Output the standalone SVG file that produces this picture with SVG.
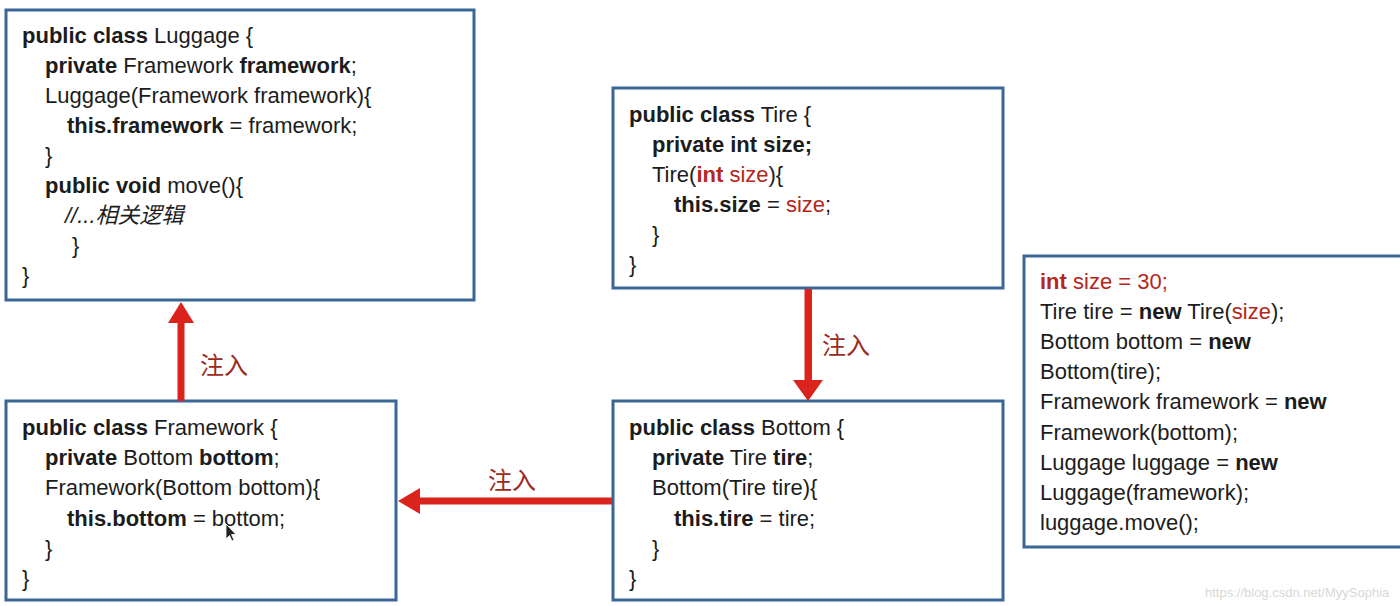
<svg xmlns="http://www.w3.org/2000/svg" width="1400" height="606" viewBox="0 0 1400 606">
<style>
.t{font-family:"Liberation Sans","Noto Sans CJK SC",sans-serif;font-size:22px;fill:#1c1c1c}
.b{font-weight:bold}
.r{fill:#b5271b}
.i{font-style:italic}
.box{fill:#fff;stroke:#3b6797;stroke-width:3}
.lbl{font-family:"Noto Sans CJK SC","Liberation Sans",sans-serif;font-size:24px;fill:#9b2a22}
.arr{fill:#d9231c}
.wm{font-family:"Liberation Sans",sans-serif;font-size:13px;fill:#d8d8d8}
</style>
<rect width="1400" height="606" fill="#fff"/>
<g id="luggage">
<rect class="box" x="6" y="10" width="468" height="290"/>
<text class="t" x="22" y="43"><tspan class="b">public class</tspan> Luggage {</text>
<text class="t" x="45" y="73"><tspan class="b">private</tspan> Framework <tspan class="b">framework</tspan>;</text>
<text class="t" x="45" y="103">Luggage(Framework framework){</text>
<text class="t" x="67" y="133"><tspan class="b">this.framework</tspan> = framework;</text>
<text class="t" x="45" y="163">}</text>
<text class="t" x="45" y="193"><tspan class="b">public void</tspan> move(){</text>
<text class="t i" x="65" y="223">//...相关逻辑</text>
<text class="t" x="72" y="253">}</text>
<text class="t" x="22" y="283">}</text>
</g>
<g id="tire">
<rect class="box" x="613" y="88" width="390" height="200"/>
<text class="t" x="629" y="122"><tspan class="b">public class</tspan> Tire {</text>
<text class="t b" x="652" y="152">private int size;</text>
<text class="t" x="652" y="182">Tire(<tspan class="r b">int</tspan><tspan class="r"> size</tspan>){</text>
<text class="t" x="674" y="212"><tspan class="b">this.size</tspan> = <tspan class="r">size</tspan>;</text>
<text class="t" x="652" y="242">}</text>
<text class="t" x="629" y="272">}</text>
</g>
<g id="framework">
<rect class="box" x="6" y="401" width="390" height="199"/>
<text class="t" x="22" y="435"><tspan class="b">public class</tspan> Framework {</text>
<text class="t" x="45" y="465"><tspan class="b">private</tspan> Bottom <tspan class="b">bottom</tspan>;</text>
<text class="t" x="45" y="495">Framework(Bottom bottom){</text>
<text class="t" x="67" y="526"><tspan class="b">this.bottom</tspan> = bottom;</text>
<text class="t" x="45" y="556">}</text>
<text class="t" x="22" y="586">}</text>
<path d="M226 524 L226 539 L229.5 535.5 L232 541 L234 540 L231.5 534.5 L236 534.5 Z" fill="#222" stroke="#fff" stroke-width="0.8"/>
</g>
<g id="bottom">
<rect class="box" x="613" y="401" width="390" height="199"/>
<text class="t" x="629" y="435"><tspan class="b">public class</tspan> Bottom {</text>
<text class="t" x="652" y="465"><tspan class="b">private</tspan> Tire <tspan class="b">tire</tspan>;</text>
<text class="t" x="652" y="495">Bottom(Tire tire){</text>
<text class="t" x="674" y="526"><tspan class="b">this.tire</tspan> = tire;</text>
<text class="t" x="652" y="556">}</text>
<text class="t" x="629" y="586">}</text>
</g>
<g id="main">
<rect class="box" x="1024" y="256" width="400" height="291"/>
<text class="t" x="1040" y="289"><tspan class="r b">int</tspan><tspan class="r"> size = 30;</tspan></text>
<text class="t" x="1040" y="319">Tire tire = <tspan class="b">new</tspan> Tire(<tspan class="r">size</tspan>);</text>
<text class="t" x="1040" y="349">Bottom bottom = <tspan class="b">new</tspan></text>
<text class="t" x="1040" y="379">Bottom(tire);</text>
<text class="t" x="1040" y="409">Framework framework = <tspan class="b">new</tspan></text>
<text class="t" x="1040" y="440">Framework(bottom);</text>
<text class="t" x="1040" y="470">Luggage luggage = <tspan class="b">new</tspan></text>
<text class="t" x="1040" y="500">Luggage(framework);</text>
<text class="t" x="1040" y="530">luggage.move();</text>
</g>
<g id="connectors">
<rect class="arr" x="177.5" y="320" width="7" height="81"/>
<polygon class="arr" points="181,302 168,323 194,323"/>
<text class="lbl" x="200" y="374">注入</text>
<rect class="arr" x="804.5" y="289" width="7.5" height="93"/>
<polygon class="arr" points="808,401 793,380 823,380"/>
<text class="lbl" x="822" y="354">注入</text>
<rect class="arr" x="417" y="497.5" width="195" height="7"/>
<polygon class="arr" points="398,501 420,488 420,514"/>
<text class="lbl" x="488" y="489">注入</text>
</g>
<text class="wm" x="1205" y="597">https://blog.csdn.net/MyySophia</text>
</svg>
